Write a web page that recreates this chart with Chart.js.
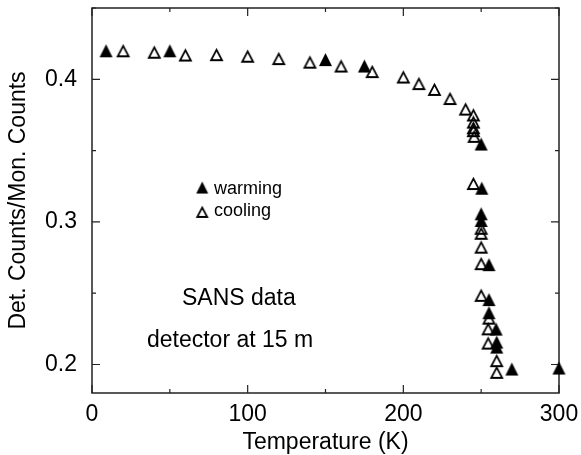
<!DOCTYPE html>
<html><head><meta charset="utf-8">
<script src="https://cdn.jsdelivr.net/npm/chart.js@4/dist/chart.umd.min.js"></script>
<style>html,body{margin:0;padding:0;background:#fff}#c{display:block}</style>
</head><body>
<canvas id="c" width="581" height="455"></canvas>
<script>
// ---- data ----
const warmingT = [9, 50, 150, 175, 250, 250.4, 250, 250, 255, 255, 255, 259.6, 260, 260, 269.7, 300];
const warmingR = [0.420, 0.420, 0.4138, 0.4093, 0.3546, 0.3236, 0.3057, 0.301, 0.270, 0.2455, 0.2363, 0.2248, 0.2157, 0.2122, 0.1968, 0.1975];
const coolingT = [20, 40, 60, 80, 100, 120, 140, 160, 180, 200, 210, 220, 230, 240, 245, 245, 245, 245, 245.5, 245, 250, 250, 250, 250, 250, 255, 254.5, 254.5, 260, 260];
const coolingR = [0.420, 0.419, 0.417, 0.4173, 0.4162, 0.4145, 0.412, 0.4093, 0.4054, 0.4016, 0.397, 0.3929, 0.3865, 0.3791, 0.375, 0.370, 0.366, 0.364, 0.360, 0.3269, 0.2955, 0.292, 0.2823, 0.2707, 0.2485, 0.2325, 0.225, 0.215, 0.2027, 0.1945];
const xTicks = [0, 100, 200, 300];
const yTicks = [0.2, 0.3, 0.4];
const xMinorStep = 50;
const yMinorStep = 0.05;
const seriesNames = ['warming', 'cooling'];
const notes = ['SANS data', 'detector at 15 m'];

const FONT = '"Liberation Sans", Arial, Helvetica, sans-serif';

function triangle(filled, size) {
  const pad = 3;
  const c = document.createElement('canvas');
  c.width = size + pad * 2; c.height = size + pad * 2;
  const g = c.getContext('2d');
  g.beginPath();
  if (filled) {
    g.moveTo(c.width / 2, pad);
    g.lineTo(pad + size, pad + size);
    g.lineTo(pad, pad + size);
    g.closePath();
    g.fillStyle = '#000';
    g.fill();
  } else {
    const lw = 1.8, inset = 1;
    g.moveTo(c.width / 2, pad + inset + 0.6);
    g.lineTo(pad + size - inset, pad + size - inset);
    g.lineTo(pad + inset, pad + size - inset);
    g.closePath();
    g.lineWidth = lw;
    g.strokeStyle = '#000';
    g.stroke();
  }
  return c;
}
const filledTri = triangle(true, 13);
const openTri = triangle(false, 13);
const filledTriSmall = triangle(true, 12);
const openTriSmall = triangle(false, 12);

const framePlugin = {
  id: 'frame',
  beforeDatasetsDraw(chart) {
    const {ctx, chartArea: a, scales: {x, y}} = chart;
    ctx.save();
    ctx.strokeStyle = '#222';
    ctx.lineWidth = 1.5;
    ctx.strokeRect(a.left, a.top, a.right - a.left, a.bottom - a.top);
    ctx.lineWidth = 1.2;
    ctx.beginPath();
    for (let v = x.min; v <= x.max + 1e-9; v += xMinorStep) {
      const px = x.getPixelForValue(v);
      const major = xTicks.some(t => Math.abs(t - v) < 1e-6);
      const len = major ? 8 : 4;
      ctx.moveTo(px, a.bottom); ctx.lineTo(px, a.bottom - len);
      ctx.moveTo(px, a.top); ctx.lineTo(px, a.top + len);
    }
    for (let v = 0.2; v <= y.max + 1e-9; v += yMinorStep) {
      if (v < y.min) continue;
      const py = y.getPixelForValue(v);
      const major = yTicks.some(t => Math.abs(t - v) < 1e-6);
      const len = major ? 8 : 4;
      ctx.moveTo(a.left, py); ctx.lineTo(a.left + len, py);
      ctx.moveTo(a.right, py); ctx.lineTo(a.right - len, py);
    }
    ctx.stroke();
    ctx.restore();
  },
  afterDatasetsDraw(chart) {
    const {ctx, scales: {x, y}} = chart;
    ctx.save();
    ctx.fillStyle = '#000';
    // legend
    const lx = x.getPixelForValue(70.8);
    ctx.drawImage(filledTriSmall, lx - filledTriSmall.width / 2, y.getPixelForValue(0.3241) - filledTriSmall.height / 2);
    ctx.drawImage(openTriSmall, lx - openTriSmall.width / 2, y.getPixelForValue(0.3070) - openTriSmall.height / 2);
    ctx.font = '18px ' + FONT;
    ctx.textAlign = 'left';
    ctx.textBaseline = 'alphabetic';
    const tx = x.getPixelForValue(78.4);
    ctx.fillText(seriesNames[0], tx, y.getPixelForValue(0.3197));
    ctx.fillText(seriesNames[1], tx, y.getPixelForValue(0.3038));
    // notes
    ctx.font = '23px ' + FONT;
    ctx.fillText(notes[0], x.getPixelForValue(57.8), y.getPixelForValue(0.2416));
    ctx.fillText(notes[1], x.getPixelForValue(35.3), y.getPixelForValue(0.2125));
    ctx.restore();
  }
};

const toPts = (xs, ys) => xs.map((v, i) => ({x: v, y: ys[i]}));

new Chart(document.getElementById('c'), {
  type: 'scatter',
  data: {
    datasets: [
      {label: seriesNames[1], data: toPts(coolingT, coolingR), pointStyle: openTri, pointRadius: 7, clip: false},
      {label: seriesNames[0], data: toPts(warmingT, warmingR), pointStyle: filledTri, pointRadius: 7, clip: false}
    ]
  },
  options: {
    responsive: false,
    devicePixelRatio: 1,
    animation: false,
    layout: {padding: {left: 0, right: 22, top: 7, bottom: 0}},
    plugins: {legend: {display: false}, tooltip: {enabled: false}},
    scales: {
      x: {
        type: 'linear', min: 0, max: 300,
        afterBuildTicks: s => { s.ticks = xTicks.map(v => ({value: v})); },
        afterFit: s => { s.height = 62; s.paddingLeft = 0; s.paddingRight = 0; },
        grid: {display: false, drawTicks: false},
        border: {display: false},
        ticks: {color: '#000', font: {family: FONT, size: 23}, padding: 8, maxRotation: 0, autoSkip: false},
        title: {display: true, text: 'Temperature (K)', color: '#000', font: {family: FONT, size: 23, lineHeight: 1.1}, padding: {top: 0, bottom: 0}}
      },
      y: {
        type: 'linear', min: 0.18, max: 0.45,
        afterBuildTicks: s => { s.ticks = yTicks.map(v => ({value: v})); },
        afterFit: s => { s.width = 92; s.paddingTop = 0; s.paddingBottom = 0; },
        grid: {display: false, drawTicks: false},
        border: {display: false},
        ticks: {color: '#000', font: {family: FONT, size: 23}, padding: 15, callback: v => v.toFixed(1), autoSkip: false},
        title: {display: true, text: 'Det. Counts/Mon. Counts', color: '#000', font: {family: FONT, size: 23, lineHeight: 1.2}, padding: {top: 5, bottom: 0}}
      }
    }
  },
  plugins: [framePlugin]
});
</script>
</body></html>
